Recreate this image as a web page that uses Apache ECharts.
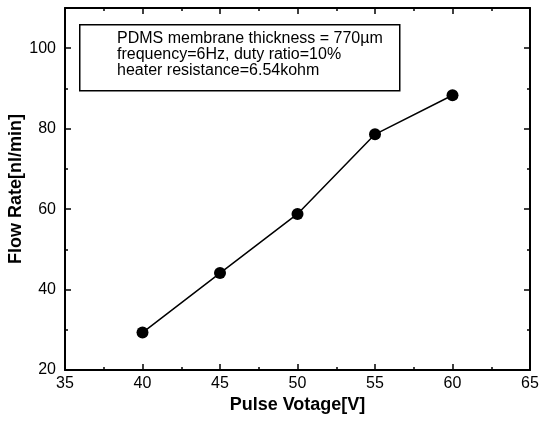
<!DOCTYPE html>
<html>
<head>
<meta charset="utf-8">
<script src="https://cdn.jsdelivr.net/npm/echarts@6/dist/echarts.min.js"></script>
<style>
html, body { margin: 0; padding: 0; background: #fff; }
#chart { width: 541px; height: 421px; }
</style>
</head>
<body>
<div id="chart"></div>
<script>
// data
const voltage  = [40, 45, 50, 55, 60]
const flowRate = [29.3, 44.1, 58.8, 78.6, 88.3]
const noteLines = [
	'PDMS membrane thickness = 770\u00b5m',
	'frequency=6Hz, duty ratio=10%',
	'heater resistance=6.54kohm'
]

const font = 'Arial, "Liberation Sans", sans-serif'

const chart = echarts.init(document.getElementById('chart'))

const axisCommon = {
	axisLine: { show: true, onZero: false, lineStyle: { color: '#000', width: 2 } },
	axisTick: { show: true, inside: true, length: 6, lineStyle: { color: '#000', width: 1.5 } },
	minorTick: { show: true, splitNumber: 2, length: 3, lineStyle: { color: '#000', width: 1.5 } },
	splitLine: { show: false }
}

chart.setOption({
	animation: false,
	grid: { left: 65, right: 11, top: 8, bottom: 51, containLabel: false, outerBoundsMode: 'none' },
	xAxis: [{
		type: 'value', min: 35, max: 65, interval: 5,
		name: 'Pulse Votage[V]', nameLocation: 'middle', nameGap: 26, nameMoveOverlap: false,
		nameTextStyle: { fontFamily: font, fontSize: 18, fontWeight: 'bold', color: '#000' },
		axisLabel: { fontFamily: font, fontSize: 16, color: '#000', margin: 6 },
		...axisCommon
	}, {
		type: 'value', min: 35, max: 65, interval: 5, position: 'top',
		axisLabel: { show: false },
		...axisCommon
	}],
	yAxis: [{
		type: 'value', min: 20, max: 110, interval: 20,
		name: 'Flow Rate[nl/min]', nameLocation: 'middle', nameGap: 40, nameMoveOverlap: false,
		nameTextStyle: { fontFamily: font, fontSize: 18, fontWeight: 'bold', color: '#000' },
		axisLabel: {
			fontFamily: font, fontSize: 16, color: '#000', margin: 9,
			formatter: v => (v % 20 === 0 ? v : '')
		},
		...axisCommon
	}, {
		type: 'value', min: 20, max: 110, interval: 20, position: 'right',
		axisLabel: { show: false },
		...axisCommon
	}],
	series: [{
		type: 'line',
		data: voltage.map((v, i) => [v, flowRate[i]]),
		symbol: 'circle', symbolSize: 12,
		lineStyle: { color: '#000', width: 1.5 },
		itemStyle: { color: '#000' }
	}],
	graphic: [{
		type: 'rect', left: 79, top: 24,
		shape: { width: 320, height: 66 },
		style: { fill: '#fff', stroke: '#000', lineWidth: 1.5 }
	}, {
		type: 'text', left: 117, top: 31,
		style: { text: noteLines.join('\n'), fontFamily: font, fontSize: 16, lineHeight: 16, fill: '#000' }
	}]
})
</script>
</body>
</html>
